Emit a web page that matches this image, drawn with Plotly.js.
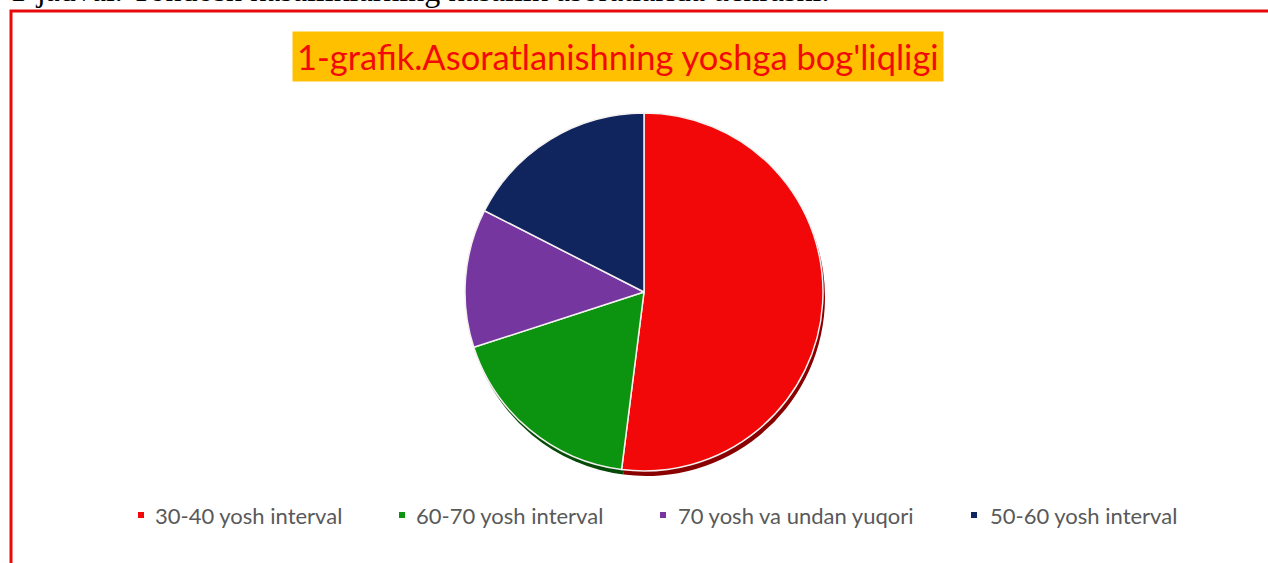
<!DOCTYPE html>
<html>
<head>
<meta charset="utf-8">
<script src="https://cdn.plot.ly/plotly-3.0.1.min.js"></script>
<style>html,body{margin:0;padding:0;background:#fff;overflow:hidden}#chart{width:1268px;height:563px}</style>
</head>
<body>
<div id="chart"></div>
<script>
var categories = ["30-40 yosh interval", "60-70 yosh interval", "70 yosh va undan yuqori", "50-60 yosh interval"];
var values = [52, 18, 12.5, 17.5];
var sliceColors = ["#F20808", "#0C9410", "#7536A0", "#10245E"];
var shadowColors = ["#8A0000", "#064A08", "#3E1A58", "#081232"];
var chartTitle = "1-grafik.Asoratlanishning yoshga bog'liqligi";
var pageText = "1-jadval. Yondosh kasalliklarning kasallik asoratlarida uchrashi.";

var W = 1268, H = 563;
var cx = 644, cy = 292, r = 179;
function dom(cx, cy, r) {
  return {x: [(cx - r) / W, (cx + r) / W], y: [1 - (cy + r) / H, 1 - (cy - r) / H]};
}

var shadow = {
  type: 'pie', labels: categories, values: values, sort: false, direction: 'clockwise', rotation: 0,
  marker: {colors: shadowColors, line: {width: 0}},
  textinfo: 'none', hoverinfo: 'skip', showlegend: false,
  domain: dom(cx + 2, cy + 5, r)
};
var main = {
  type: 'pie', labels: categories, values: values, sort: false, direction: 'clockwise', rotation: 0,
  marker: {colors: sliceColors, line: {color: '#F4F0F0', width: 1.5}},
  textinfo: 'none', hoverinfo: 'label+percent', showlegend: false,
  domain: dom(cx, cy, r)
};

// legend drawn as small squares + labels (positions in px)
var legendMarkX = [141, 402, 663, 974];
var legendTextX = [153, 414, 676, 988];
var legendY = 515;
var shapes = [{
  type: 'rect', xref: 'paper', yref: 'paper',
  x0: 11 / W, x1: 1.05, y0: -0.05, y1: 1 - 11 / H,
  line: {color: '#E80A0A', width: 3}, fillcolor: 'rgba(0,0,0,0)'
}];
var annotations = [
  {
    text: pageText, xref: 'paper', yref: 'paper', x: 8 / W, xanchor: 'left',
    y: 1 + 10 / H, yanchor: 'middle', showarrow: false,
    font: {family: '"Liberation Serif", serif', size: 32, color: '#000'}
  },
  {
    text: chartTitle, xref: 'paper', yref: 'paper', x: 618 / W, xanchor: 'center',
    y: 1 - 57 / H, yanchor: 'middle', showarrow: false,
    bgcolor: '#FFC000', borderpad: 4,
    font: {family: 'Lato, "Open Sans", sans-serif', size: 34.5, color: '#F20A0A'}
  }
];
categories.forEach(function (c, i) {
  shapes.push({
    type: 'rect', xref: 'paper', yref: 'paper',
    x0: (legendMarkX[i] - 3) / W, x1: (legendMarkX[i] + 3) / W,
    y0: 1 - (legendY + 3) / H, y1: 1 - (legendY - 3) / H,
    line: {width: 0}, fillcolor: sliceColors[i]
  });
  annotations.push({
    text: c, xref: 'paper', yref: 'paper', x: legendTextX[i] / W, xanchor: 'left',
    y: 1 - legendY / H, yanchor: 'middle', showarrow: false,
    font: {family: 'Lato, "Open Sans", sans-serif', size: 22, color: '#595959'}
  });
});

var layout = {
  width: W, height: H,
  margin: {l: 0, r: 0, t: 0, b: 0},
  paper_bgcolor: '#ffffff',
  showlegend: false,
  shapes: shapes,
  annotations: annotations
};

Plotly.newPlot('chart', [shadow, main], layout, {displayModeBar: false, staticPlot: true});
</script>
</body>
</html>
